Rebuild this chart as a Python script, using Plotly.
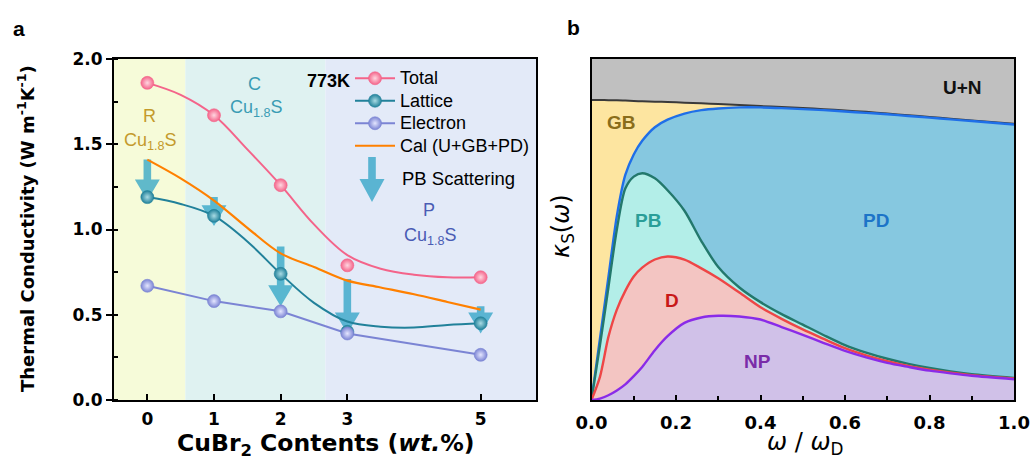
import plotly.graph_objects as go

W, H = 1032, 459
FONT = "Liberation Sans, Arial, sans-serif"
FONT_W = "DejaVu Sans, sans-serif"

# ---------------- panel a data ----------------
cubr2_wt = [0, 1, 2, 3, 5]
kappa_total = [1.86, 1.67, 1.26, 0.79, 0.72]
kappa_lattice = [1.19, 1.08, 0.74, 0.40, 0.45]
kappa_electron = [0.67, 0.58, 0.52, 0.39, 0.265]
fit_wt = [0, 0.5, 1, 1.5, 2, 2.5, 3, 3.5, 4, 4.5, 5]
fit_total = [1.86, 1.79, 1.67, 1.47, 1.26, 1.03, 0.85, 0.77, 0.735, 0.72, 0.72]
fit_lattice = [1.19, 1.15, 1.08, 0.93, 0.74, 0.57, 0.46, 0.43, 0.425, 0.44, 0.45]
fit_cal = [1.41, 1.30, 1.17, 1.01, 0.86, 0.78, 0.70, 0.66, 0.62, 0.575, 0.53]
pb_arrow_top = [1.41, 1.19, 0.90, 0.71, 0.55]
pb_arrow_tip = [1.17, 1.02, 0.55, 0.39, 0.39]
phase_bounds = [-0.5, 0.57, 2.67, 5.83]
phase_names = ["R", "C", "P"]

# ---------------- panel b data ----------------
omega = [0, 0.02, 0.04, 0.06, 0.08, 0.10, 0.12, 0.15, 0.18, 0.22, 0.26, 0.30,
         0.35, 0.40, 0.45, 0.50, 0.55, 0.60, 0.65, 0.70, 0.75, 0.80, 0.85, 0.90, 1.00]
k_gb = [0.880, 0.880, 0.879, 0.879, 0.878, 0.877, 0.876, 0.875, 0.874, 0.872, 0.870, 0.868,
        0.865, 0.862, 0.859, 0.856, 0.853, 0.849, 0.845, 0.840, 0.835, 0.830, 0.825, 0.820, 0.810]
k_pd = [0, 0.18, 0.36, 0.54, 0.66, 0.72, 0.76, 0.80, 0.822, 0.840, 0.850, 0.855,
        0.858, 0.858, 0.856, 0.853, 0.850, 0.846, 0.842, 0.838, 0.833, 0.828, 0.823, 0.818, 0.808]
k_pb = [0, 0.16, 0.33, 0.50, 0.62, 0.655, 0.665, 0.650, 0.615, 0.555, 0.466, 0.390,
        0.330, 0.287, 0.252, 0.221, 0.190, 0.161, 0.139, 0.121, 0.106, 0.094, 0.084, 0.076, 0.065]
k_d = [0, 0.068, 0.185, 0.265, 0.320, 0.362, 0.388, 0.412, 0.421, 0.412, 0.386, 0.357,
       0.315, 0.272, 0.238, 0.207, 0.179, 0.152, 0.131, 0.114, 0.100, 0.089, 0.080, 0.073, 0.063]
k_np = [0, 0.004, 0.014, 0.028, 0.046, 0.070, 0.097, 0.146, 0.187, 0.226, 0.242, 0.247,
        0.245, 0.236, 0.214, 0.191, 0.167, 0.144, 0.125, 0.109, 0.097, 0.086, 0.078, 0.071, 0.061]


def px(x):
    return x / W


def py(y):
    return 1 - y / H


C_TOT, C_TOT_L = "#f4648a", "#ffd6e0"
C_LAT, C_LAT_L = "#21819a", "#a9dbe4"
C_ELE, C_ELE_L = "#7b84d4", "#e4e6ff"
C_CAL = "#ff8000"
C_ARROW = "rgba(38,160,196,0.72)"

fig = go.Figure()

# fitted curves (panel a)
fig.add_trace(go.Scatter(x=fit_wt, y=fit_total, mode="lines", showlegend=False,
                         line=dict(color=C_TOT, width=2, shape="spline"), xaxis="x", yaxis="y"))
fig.add_trace(go.Scatter(x=fit_wt, y=fit_cal, mode="lines", showlegend=False,
                         line=dict(color=C_CAL, width=2.2, shape="spline"), xaxis="x", yaxis="y"))
fig.add_trace(go.Scatter(x=fit_wt, y=fit_lattice, mode="lines", showlegend=False,
                         line=dict(color=C_LAT, width=2, shape="spline"), xaxis="x", yaxis="y"))
fig.add_trace(go.Scatter(x=cubr2_wt, y=kappa_electron, mode="lines", showlegend=False,
                         line=dict(color=C_ELE, width=2), xaxis="x", yaxis="y"))


def ball(c, cl):
    return dict(size=13, color=c, gradient=dict(type="radial", color=cl),
                line=dict(width=0.6, color=c))


for yv, c, cl in [(kappa_total, C_TOT, C_TOT_L), (kappa_lattice, C_LAT, C_LAT_L),
                  (kappa_electron, C_ELE, C_ELE_L)]:
    fig.add_trace(go.Scatter(x=cubr2_wt, y=yv, mode="markers", showlegend=False,
                             marker=ball(c, cl), xaxis="x", yaxis="y"))

# legend entries
LEG = '<span style="font-size:18px">%s</span>'
for name, c, cl in [("Total", C_TOT, C_TOT_L), ("Lattice", C_LAT, C_LAT_L),
                    ("Electron", C_ELE, C_ELE_L)]:
    fig.add_trace(go.Scatter(x=[None], y=[None], mode="lines+markers", name=LEG % name,
                             line=dict(color=c, width=2), marker=ball(c, cl),
                             xaxis="x", yaxis="y"))
fig.add_trace(go.Scatter(x=[None], y=[None], mode="lines", name=LEG % "Cal (U+GB+PD)",
                         line=dict(color=C_CAL, width=2.2), xaxis="x", yaxis="y"))

# panel b stacked spectra
for yv, fc, lc, lw in [(k_gb, "#fde5a0", "#3a3a3a", 2),
                       (k_pd, "#86c8e0", "#1f6fe8", 2.4),
                       (k_pb, "#b3eee8", "#23786c", 2.4),
                       (k_d, "#f3c5c2", "#ee4646", 2.4),
                       (k_np, "#d0c1e8", "#8a2be8", 2.4)]:
    fig.add_trace(go.Scatter(x=omega, y=yv, mode="lines", fill="tozeroy", fillcolor=fc,
                             line=dict(color=lc, width=lw, shape="spline", smoothing=0.8),
                             showlegend=False, xaxis="x2", yaxis="y2"))

shapes = []
phase_colors = ["#f6fbd9", "#dff2f1", "#e3eaf8"]
for i in range(3):
    shapes.append(dict(type="rect", xref="x", yref="y", x0=phase_bounds[i], x1=phase_bounds[i + 1],
                       y0=0, y1=2, fillcolor=phase_colors[i], line=dict(width=0), layer="below"))

# PB scattering arrows (data driven)
head_h = 21 / 171.0
head_hw = 12.5 / 66.8
shaft_hw = 3.8 / 66.8
for xv, top, tip in zip(cubr2_wt, pb_arrow_top, pb_arrow_tip):
    base = tip + head_h
    path = (f"M{xv - shaft_hw},{top} L{xv + shaft_hw},{top} L{xv + shaft_hw},{base} "
            f"L{xv + head_hw},{base} L{xv},{tip} L{xv - head_hw},{base} L{xv - shaft_hw},{base} Z")
    shapes.append(dict(type="path", xref="x", yref="y", path=path, fillcolor=C_ARROW,
                       line=dict(width=0), layer="below"))

shapes.append(dict(type="rect", xref="x2", yref="y2", x0=0, x1=1, y0=0, y1=1,
                   fillcolor="#c0c0c0", line=dict(width=0), layer="below"))

# legend arrow glyph (paper coords)
lx, ltop, lbase, ltip = 372, 157, 179, 202
pts = [(lx - 3.8, ltop), (lx + 3.8, ltop), (lx + 3.8, lbase), (lx + 12.5, lbase), (lx, ltip),
       (lx - 12.5, lbase), (lx - 3.8, lbase)]
lpath = "M" + " L".join(f"{px(a)},{py(b)}" for a, b in pts) + " Z"
shapes.append(dict(type="path", xref="paper", yref="paper", path=lpath, fillcolor=C_ARROW,
                   line=dict(width=0), layer="above"))

ann = []


def text(t, x, y, size, color="black", family=FONT, angle=0, xanchor="center"):
    ann.append(dict(text=t, x=px(x), y=py(y), xref="paper", yref="paper", showarrow=False,
                    xanchor=xanchor, yanchor="middle", textangle=angle,
                    font=dict(family=family, size=size, color=color)))


text("<b>a</b>", 19, 28, 21)
text("<b>b</b>", 573, 27, 21)
text("<b>Thermal Conductivity (W m<sup>-1</sup>K<sup>-1</sup>)</b>", 26, 229, 18,
     family=FONT_W, angle=-90)
text("<b>CuBr<sub>2</sub> Contents (<i>wt.</i>%)</b>", 325, 444, 23.5, family=FONT_W)
text("<i>κ</i><sub>S</sub>(<i>ω</i>)", 563, 226, 24, family=FONT_W, angle=-90)
text("<i>ω</i> / <i>ω</i><sub>D</sub>", 805, 443, 24, family=FONT_W)

# phase labels
phase_lab = [("#c49a2c", 149, 116, 150, 141), ("#3a9cb4", 254, 84, 256, 109),
             ("#4a5cb4", 429, 210, 430, 236)]
for (col, x1, y1, x2, y2), nm in zip(phase_lab, phase_names):
    text(nm, x1, y1, 18, col)
    text("Cu<sub>1.8</sub>S", x2, y2, 18, col)

text("<b>773K</b>", 328, 81, 18)
text("PB Scattering", 400, 178, 18.5, xanchor="left")

# panel b labels
text("<b>U+N</b>", 962, 87, 19, "#111111")
text("<b>GB</b>", 621, 122, 19, "#8a6d1a")
text("<b>PB</b>", 648, 220, 19, "#2a9e98")
text("<b>PD</b>", 876, 221, 19, "#1c74c8")
text("<b>D</b>", 672, 300, 19, "#c81818")
text("<b>NP</b>", 757, 361, 19, "#7a2ca8")

tickfont = dict(family=FONT_W, size=17, color="black", weight="bold")
axis_common = dict(showline=True, linewidth=2, linecolor="black", mirror=True,
                   showgrid=False, zeroline=False)

fig.update_layout(
    width=W, height=H, margin=dict(l=0, r=0, t=0, b=0, autoexpand=False),
    paper_bgcolor="white", plot_bgcolor="rgba(0,0,0,0)",
    xaxis=dict(domain=[px(114), px(536)], range=[phase_bounds[0], phase_bounds[-1]],
               tickvals=cubr2_wt, ticks="inside", ticklen=6, tickwidth=2, tickcolor="black",
               tickfont=tickfont, ticklabelstandoff=3, anchor="y", **axis_common),
    yaxis=dict(domain=[1 - 400 / H, 1 - 59 / H], range=[0, 2], tick0=0, dtick=0.5,
               tickformat=".1f", ticks="outside", ticklen=6, tickwidth=2, tickcolor="black",
               minor=dict(tick0=0, dtick=0.25, ticks="inside", ticklen=4, tickwidth=1.5,
                          tickcolor="black"),
               tickfont=tickfont, anchor="x", **axis_common),
    xaxis2=dict(domain=[px(591.5), px(1014)], range=[0, 1], tick0=0, dtick=0.2,
                tickformat=".1f", ticks="inside", ticklen=5, tickwidth=2, tickcolor="black",
                minor=dict(tick0=0, dtick=0.1, ticks="inside", ticklen=4, tickwidth=1.5,
                           tickcolor="black"),
                tickfont=dict(family=FONT_W, size=18, color="black", weight="bold"),
                ticklabelstandoff=5, anchor="y2", **axis_common),
    yaxis2=dict(domain=[1 - 400 / H, 1 - 59 / H], range=[0, 1], showticklabels=False,
                ticks="", anchor="x2", **axis_common),
    legend=dict(x=px(350), y=py(62), xanchor="left", yanchor="top", bgcolor="rgba(0,0,0,0)",
                font=dict(family=FONT, size=15, color="black"), itemwidth=40,
                tracegroupgap=0),
    shapes=shapes, annotations=ann,
)

fig.write_html("out.html")
